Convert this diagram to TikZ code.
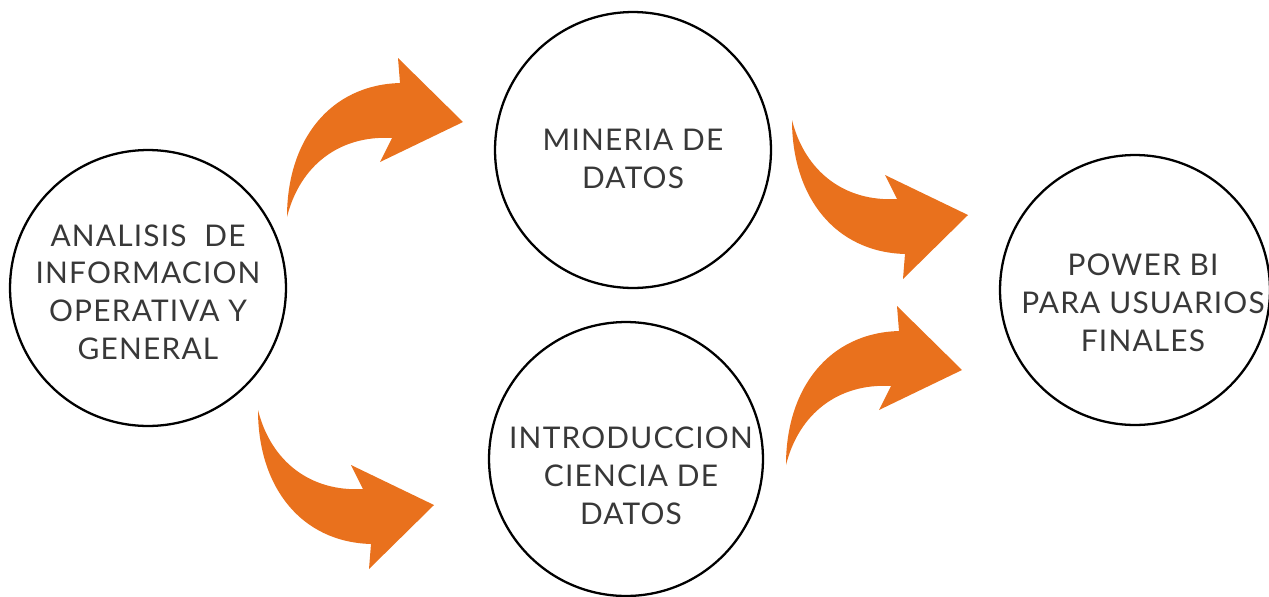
\documentclass[tikz,border=0pt]{standalone}
\usepackage{fontspec}
\setmainfont{Lato}[LetterSpace=4]
\begin{document}
\begin{tikzpicture}[x=0.02cm,y=-0.02cm,
	circulo/.style={draw=black,line width=1.3pt,circle,inner sep=0pt},
	texto/.style={align=center,font=\fontsize{17}{21.5}\selectfont,text=black!78}]
	\definecolor{naranja}{RGB}{233,113,29}
	\useasboundingbox (0,0) rectangle (1269,596);
	
	%Circulos
	\node[circulo,minimum size=5.52cm] (analisis) at (148,288) {};
	\node[circulo,minimum size=5.52cm] (mineria) at (633,150) {};
	\node[circulo,minimum size=5.48cm] (ciencia) at (626,459) {};
	\node[circulo,minimum size=5.40cm] (powerbi) at (1135,290) {};
	
	%Textos
	\node[texto] (tanalisis) at (148,292) {ANALISIS\ \ DE\\INFORMACION\\OPERATIVA Y\\GENERAL};
	\node[texto] (tmineria) at (633,159) {MINERIA DE\\DATOS};
	\node[texto] (tciencia) at (631,476) {INTRODUCCION\\CIENCIA DE\\DATOS};
	\node[texto] (tpowerbi) at (1143,303) {POWER BI\\PARA USUARIOS\\FINALES};
	
	%Flechas
	\begin{scope}[shift={(287,217)}]
		\fill[naranja] (0,0) .. controls (0,-77) and (43,-132) .. (113,-134) -- (111,-159) -- (176,-95) -- (93,-55) -- (105,-79) .. controls (53,-82) and (13,-52) .. (0,0) -- cycle;
	\end{scope}
	\begin{scope}[shift={(258,410)},yscale=-1]
		\fill[naranja] (0,0) .. controls (0,-77) and (43,-132) .. (113,-134) -- (111,-159) -- (176,-95) -- (93,-55) -- (105,-79) .. controls (53,-82) and (13,-52) .. (0,0) -- cycle;
	\end{scope}
	\begin{scope}[shift={(792,120)},yscale=-1]
		\fill[naranja] (0,0) .. controls (0,-77) and (43,-132) .. (113,-134) -- (111,-159) -- (176,-95) -- (93,-55) -- (105,-79) .. controls (53,-82) and (13,-52) .. (0,0) -- cycle;
	\end{scope}
	\begin{scope}[shift={(786,465)}]
		\fill[naranja] (0,0) .. controls (0,-77) and (43,-132) .. (113,-134) -- (111,-159) -- (176,-95) -- (93,-55) -- (105,-79) .. controls (53,-82) and (13,-52) .. (0,0) -- cycle;
	\end{scope}
\end{tikzpicture}
\end{document}
